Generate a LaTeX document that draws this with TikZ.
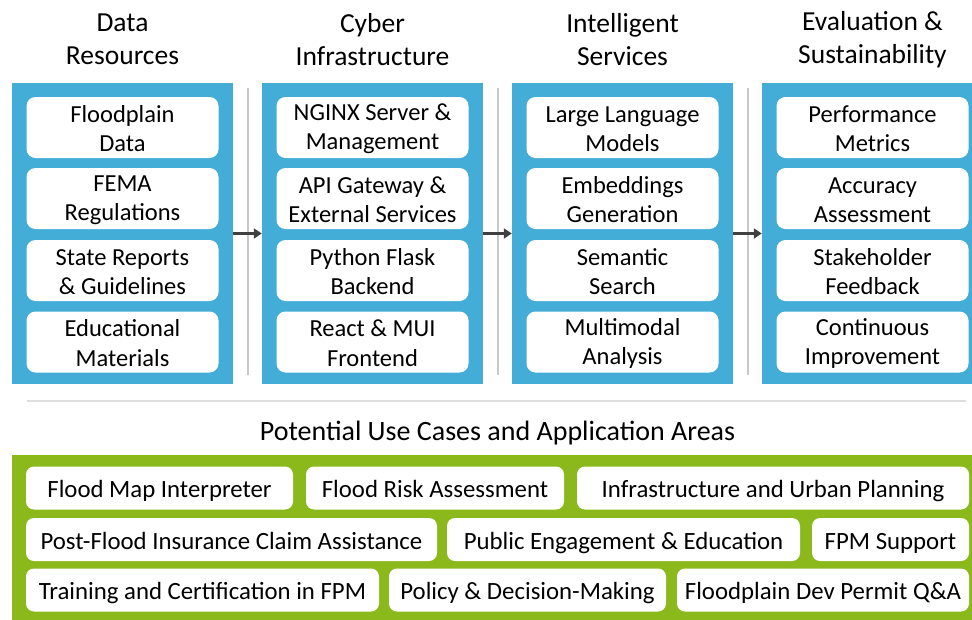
\documentclass[tikz,border=0pt]{standalone}
\usepackage{fontspec}
\setmainfont{Carlito}
\usetikzlibrary{arrows.meta}
\definecolor{panelblue}{RGB}{68,173,215}
\definecolor{panelgreen}{RGB}{139,184,26}
\definecolor{sepgray}{RGB}{200,200,200}
\definecolor{hsepgray}{RGB}{222,222,222}
\definecolor{arrowgray}{RGB}{64,64,64}
\newcommand{\mystrut}{\rule[-0.5pt]{0pt}{20pt}}
\newcommand{\tl}[2]{\mystrut #1\\\mystrut #2}
\tikzset{
  panel/.style={fill=panelblue, draw=none, minimum width=221pt, minimum height=301pt, inner sep=0pt},
  item/.style={fill=white, draw=none, rounded corners=9pt, minimum width=192pt, minimum height=61pt,
    align=center, inner sep=0pt, font=\fontsize{24.5}{29.5}\selectfont},
  hdr/.style={align=center, inner sep=0pt, font=\fontsize{27.5}{33}\selectfont},
  ttl/.style={inner sep=0pt, font=\fontsize{28}{33}\selectfont},
  usebox/.style={fill=white, draw=none, rounded corners=8pt, minimum height=43pt, inner sep=0pt,
    text height=20pt, text depth=0.5pt, font=\fontsize{24.8}{29}\selectfont},
  sep/.style={draw=sepgray, line width=1.5pt},
  flow/.style={draw=arrowgray, line width=2.5pt, -{Triangle[length=8pt,width=10pt]}},
}
\begin{document}
\begin{tikzpicture}[x=1pt,y=-1pt]
\clip (0,0) rectangle (972,619);
\fill[white] (0,0) rectangle (972,619);

% headers
\node[hdr] (h1) at (122.5,39.5) {Data\\Resources};
\node[hdr] (h2) at (372.5,39.5) {Cyber\\Infrastructure};
\node[hdr] (h3) at (622.5,39.5) {Intelligent\\Services};
\node[hdr] (h4) at (872.5,39.5) {Evaluation \&\\Sustainability};

% panels
\node[panel] (p1) at (122.5,233.5) {};
\node[panel] (p2) at (372.5,233.5) {};
\node[panel] (p3) at (622.5,233.5) {};
\node[panel] (p4) at (872.5,233.5) {};

% separators
\coordinate (s1t) at (248,88); \coordinate (s1b) at (248,375);
\coordinate (s2t) at (498,88); \coordinate (s2b) at (498,375);
\coordinate (s3t) at (748,88); \coordinate (s3b) at (748,375);
\draw[sep] (s1t) -- (s1b);
\draw[sep] (s2t) -- (s2b);
\draw[sep] (s3t) -- (s3b);

% arrows
\draw[flow] (p1.east) -- (p2.west);
\draw[flow] (p2.east) -- (p3.west);
\draw[flow] (p3.east) -- (p4.west);

% column 1
\node[item] (a1) at (122.5,127.5) {\tl{Floodplain}{Data}};
\node[item] (a2) at (122.5,198.5) {\tl{FEMA}{Regulations}};
\node[item] (a3) at (122.5,270.5) {\tl{State Reports}{\& Guidelines}};
\node[item] (a4) at (122.5,342) {\tl{Educational}{Materials}};
% column 2
\node[item] (b1) at (372.5,127.5) {\tl{NGINX Server \&}{Management}};
\node[item] (b2) at (372.5,198.5) {\tl{API Gateway \&}{External Services}};
\node[item] (b3) at (372.5,270.5) {\tl{Python Flask}{Backend}};
\node[item] (b4) at (372.5,342) {\tl{React \& MUI}{Frontend}};
% column 3
\node[item] (c1) at (622.5,127.5) {\tl{Large Language}{Models}};
\node[item] (c2) at (622.5,198.5) {\tl{Embeddings}{Generation}};
\node[item] (c3) at (622.5,270.5) {\tl{Semantic}{Search}};
\node[item] (c4) at (622.5,342) {\tl{Multimodal}{Analysis}};
% column 4
\node[item] (d1) at (872.5,127.5) {\tl{Performance}{Metrics}};
\node[item] (d2) at (872.5,198.5) {\tl{Accuracy}{Assessment}};
\node[item] (d3) at (872.5,270.5) {\tl{Stakeholder}{Feedback}};
\node[item] (d4) at (872.5,342) {\tl{Continuous}{Improvement}};

% horizontal separator
\coordinate (hl) at (27,401); \coordinate (hr) at (966,401);
\draw[draw=hsepgray, line width=2pt] (hl) -- (hr);

% title
\node[ttl] (title) at (497.5,433.5) {Potential Use Cases and Application Areas};

% green panel
\node[fill=panelgreen, draw=none, minimum width=971pt, minimum height=175pt, inner sep=0pt] (g) at (497.5,542.5) {};

% use cases
\node[usebox, minimum width=267pt] (u1) at (159.5,488) {Flood Map Interpreter};
\node[usebox, minimum width=258pt] (u2) at (435,488) {Flood Risk Assessment};
\node[usebox, minimum width=392pt] (u3) at (773,488) {Infrastructure and Urban Planning};
\node[usebox, minimum width=411pt] (u4) at (231.5,539.5) {Post-Flood Insurance Claim Assistance};
\node[usebox, minimum width=353pt] (u5) at (623.5,539.5) {Public Engagement \& Education};
\node[usebox, minimum width=157pt] (u6) at (890.5,539.5) {FPM Support};
\node[usebox, minimum width=353pt] (u7) at (202.5,590) {Training and Certification in FPM};
\node[usebox, minimum width=277pt] (u8) at (527.5,590) {Policy \& Decision-Making};
\node[usebox, minimum width=292pt] (u9) at (823,590) {Floodplain Dev Permit Q\&A};
\end{tikzpicture}
\end{document}
